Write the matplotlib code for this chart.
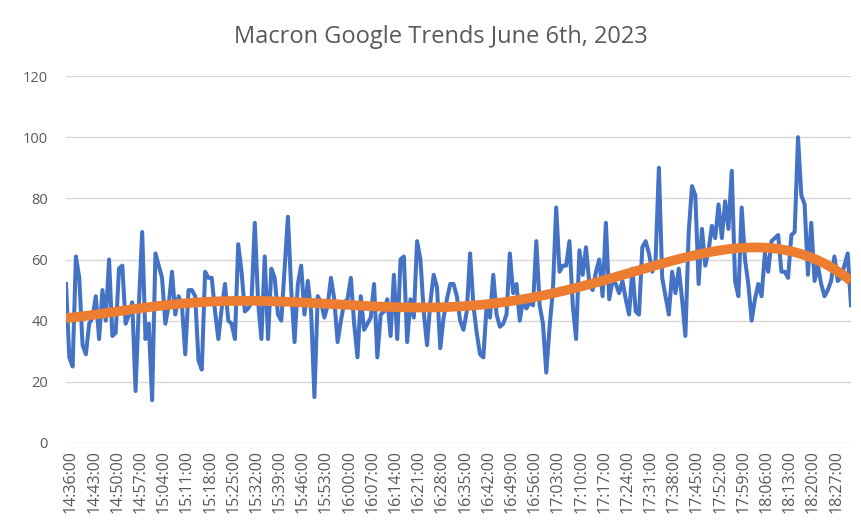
import numpy as np
import pandas as pd
import matplotlib
matplotlib.use("Agg")
import matplotlib.pyplot as plt
import matplotlib.transforms as mtransforms

# per-minute Google Trends values, starting at 14:36
start_time = "2023-06-06 14:36"
interest = [
    52, 28, 25, 61, 54, 32, 29, 39, 41, 48, 34, 50, 40, 60, 35, 36, 57, 58, 39, 42,
    46, 17, 45, 69, 34, 39, 14, 62, 58, 54, 39, 45, 56, 42, 48, 45, 29, 50, 50, 48,
    27, 24, 56, 54, 54, 43, 34, 44, 52, 40, 39, 34, 65, 56, 43, 44, 46, 72, 46, 34,
    61, 34, 57, 54, 42, 40, 57, 74, 50, 33, 52, 58, 42, 53, 43, 15, 48, 46, 41, 45,
    54, 47, 33, 40, 46, 47, 54, 39, 28, 48, 37, 39, 41, 52, 28, 42, 43, 47, 35, 55,
    34, 60, 61, 33, 47, 41, 66, 60, 43, 32, 46, 55, 51, 31, 41, 47, 52, 52, 48, 40,
    37, 43, 62, 45, 36, 29, 28, 45, 41, 55, 42, 38, 39, 42, 62, 49, 52, 40, 47, 44,
    46, 45, 66, 45, 39, 23, 38, 50, 77, 56, 58, 58, 66, 45, 34, 63, 55, 64, 52, 50,
    56, 60, 48, 72, 47, 53, 52, 49, 53, 47, 42, 57, 43, 42, 64, 66, 62, 56, 60, 90,
    54, 48, 42, 56, 49, 57, 47, 35, 69, 84, 81, 52, 70, 58, 63, 71, 67, 78, 67, 79,
    70, 89, 53, 48, 77, 60, 52, 40, 47, 52, 48, 62, 56, 66, 67, 68, 56, 56, 54, 68,
    69, 100, 81, 78, 55, 72, 53, 58, 52, 48, 50, 53, 61, 53, 54, 58, 62, 45,
]
label_step = 7
y_ticks = [0, 20, 40, 60, 80, 100, 120]

times = pd.date_range(start_time, periods=len(interest), freq="min")
labels = times.strftime("%H:%M:%S")
x = np.arange(len(interest))

# polynomial trendline like Excel's (order 6)
coef = np.polyfit(x, interest, 6)
trend = np.polyval(coef, x)

plt.rcParams["font.family"] = ["Open Sans", "DejaVu Sans"]
text_color = "#595959"

fig = plt.figure(figsize=(8.62, 5.29), dpi=100)
ax = fig.add_axes([66 / 862, 1 - 443 / 529, 785 / 862, 367 / 529])

ax.plot(x, interest, color="#4472C4", lw=2.9, solid_joinstyle="round", zorder=3)
ax.plot(x, trend, color="#ED7D31", lw=7, solid_capstyle="butt", zorder=4)

ax.set_xlim(0, len(interest) - 1)
ax.set_ylim(0, 120)
ax.set_yticks(y_ticks)
ax.set_xticks(x[::label_step])
ax.set_xticklabels(labels[::label_step], rotation=90)

ax.grid(axis="y", color="#D9D9D9", lw=1)
ax.set_axisbelow(True)
for s in ax.spines.values():
    s.set_visible(False)
ax.tick_params(length=0, colors=text_color, labelsize=10.5)
ax.tick_params(axis="x", labelsize=11.5, pad=5)
ax.tick_params(axis="y", pad=13)

offset = mtransforms.ScaledTranslation(5 / 100, 0, fig.dpi_scale_trans)
for lab in ax.get_xticklabels():
    lab.set_transform(lab.get_transform() + offset)

fig.text(0.512, 1 - 37 / 529, "Macron Google Trends June 6th, 2023",
         ha="center", va="center", fontsize=17, color=text_color)

fig.savefig("out.png", dpi=100)
